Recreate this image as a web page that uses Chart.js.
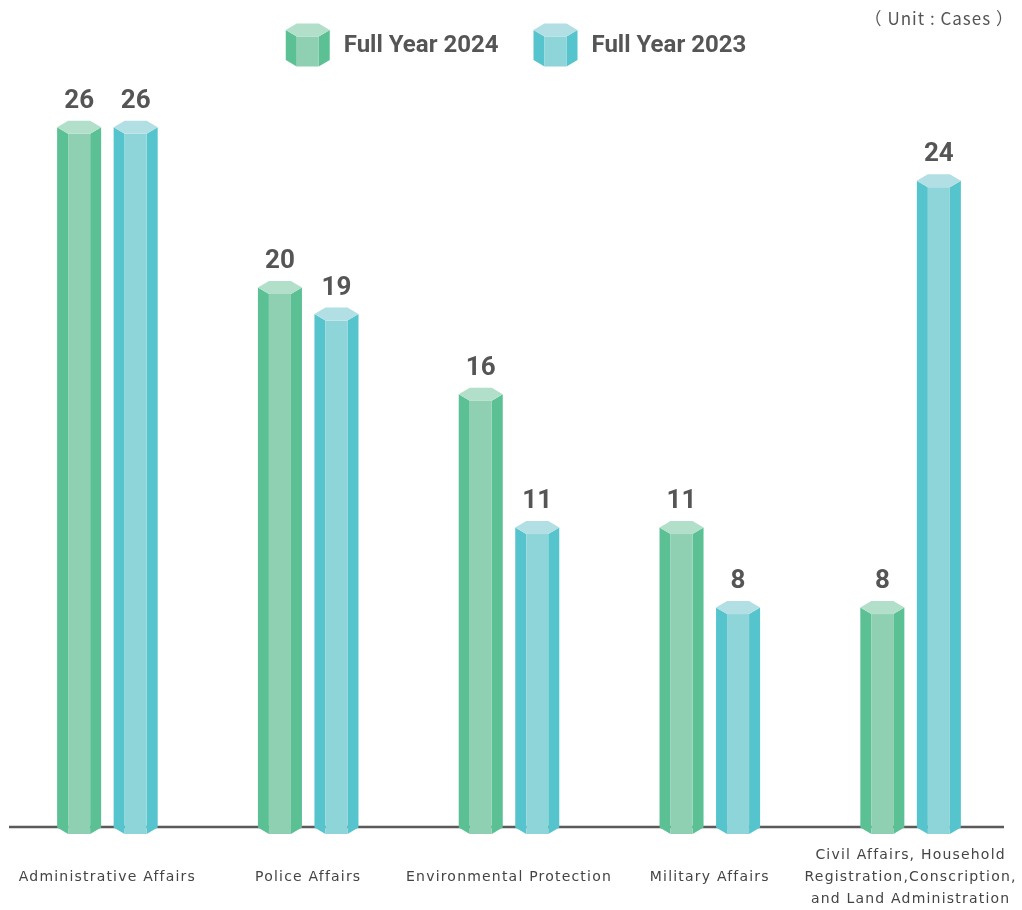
<!DOCTYPE html>
<html>
<head>
<meta charset="utf-8">
<script src="https://cdn.jsdelivr.net/npm/chart.js@4.4.1/dist/chart.umd.min.js"></script>
<style>
  html, body { margin: 0; padding: 0; background: #fff; }
  #wrap { width: 1022px; height: 910px; position: relative; }
</style>
</head>
<body>
<div id="wrap"><canvas id="bar_chart"></canvas></div>
<script>
const ctx = document.querySelector('#bar_chart')

const categories = [
    'Administrative Affairs',
    'Police Affairs',
    'Environmental Protection',
    'Military Affairs',
    ['Civil Affairs, Household', 'Registration,Conscription,', 'and Land Administration']
];
const seriesNames = ['Full Year 2024', 'Full Year 2023'];
const values2024 = [26, 20, 16, 11, 8];
const values2023 = [26, 19, 11, 8, 24];
const unitLabel = '（ Unit : Cases ）';

// side / front / top colours of each prism
const greenFaces = { side: '#5bc195', front: '#8fd0b3', top: '#b1dfc9' };
const cyanFaces = { side: '#56c4cc', front: '#8ed5d9', top: '#b1dfe4' };

const SIDE = 11;   // width of each slanted side face
const DEPTH = 6.5; // half height of the hexagon cap

function drawPrism(c, x0, x1, yTop, yBottom, faces) {
    const s = SIDE, d = DEPTH;
    c.fillStyle = faces.side;
    c.beginPath();
    c.moveTo(x0, yTop);
    c.lineTo(x0 + s, yTop + d);
    c.lineTo(x0 + s, yBottom + d);
    c.lineTo(x0, yBottom);
    c.closePath();
    c.fill();
    c.beginPath();
    c.moveTo(x1, yTop);
    c.lineTo(x1 - s, yTop + d);
    c.lineTo(x1 - s, yBottom + d);
    c.lineTo(x1, yBottom);
    c.closePath();
    c.fill();
    c.fillStyle = faces.front;
    c.fillRect(x0 + s, yTop + d, (x1 - x0) - 2 * s, yBottom - yTop);
    c.fillStyle = faces.top;
    c.beginPath();
    c.moveTo(x0 + s, yTop - d);
    c.lineTo(x1 - s, yTop - d);
    c.lineTo(x1, yTop);
    c.lineTo(x1 - s, yTop + d);
    c.lineTo(x0 + s, yTop + d);
    c.lineTo(x0, yTop);
    c.closePath();
    c.fill();
}

const prismBars = {
    id: 'prismBars',
    beforeDraw(chart) {
        // spaced-out category labels (scales draw before datasets)
        chart.ctx.letterSpacing = '1.2px';
    },
    beforeDatasetsDraw(chart) {
        const c = chart.ctx;
        c.letterSpacing = '0px';
        const base = chart.scales.y.getPixelForValue(0) + 6;
        c.save();
        c.strokeStyle = '#5a5a5a';
        c.lineWidth = 2.5;
        c.beginPath();
        c.moveTo(9, base);
        c.lineTo(1004, base);
        c.stroke();
        c.restore();
    },
    afterDatasetsDraw(chart) {
        const c = chart.ctx;
        c.save();
        chart.data.datasets.forEach((ds, di) => {
            const meta = chart.getDatasetMeta(di);
            meta.data.forEach((bar, i) => {
                const x0 = bar.x - bar.width / 2;
                const x1 = bar.x + bar.width / 2;
                drawPrism(c, x0, x1, bar.y, bar.base + 6.5, ds.faces);
                c.fillStyle = '#555555';
                c.font = 'bold 26px Roboto';
                c.textAlign = 'center';
                c.textBaseline = 'alphabetic';
                c.fillText(ds.data[i], bar.x, bar.y - 19.5);
            });
        });
        c.restore();
    },
    afterDraw(chart) {
        const c = chart.ctx;
        c.save();
        // legend
        c.font = 'bold 24px Roboto';
        const iconW = 44, gapText = 14, gapItem = 35;
        const widths = chart.data.datasets.map(ds => c.measureText(ds.label).width);
        const total = widths.reduce((a, w) => a + iconW + gapText + w, 0) + gapItem;
        let x = 516 - total / 2;
        chart.data.datasets.forEach((ds, di) => {
            drawPrism(c, x, x + iconW, 30, 60, ds.faces);
            c.fillStyle = '#555555';
            c.textAlign = 'left';
            c.textBaseline = 'middle';
            c.fillText(ds.label, x + iconW + gapText, 46);
            x += iconW + gapText + widths[di] + gapItem;
        });
        // unit
        c.letterSpacing = '1px';
        c.font = '17px "Noto Sans CJK JP"';
        c.fillStyle = '#555555';
        c.textAlign = 'right';
        c.textBaseline = 'middle';
        c.fillText(unitLabel, 1014, 19);
        c.restore();
        c.letterSpacing = '0px';
    }
};

const data = {
    labels: categories,
    datasets: [
        {
            label: seriesNames[0],
            data: values2024,
            backgroundColor: 'transparent',
            faces: greenFaces
        },
        {
            label: seriesNames[1],
            data: values2023,
            backgroundColor: 'transparent',
            faces: cyanFaces
        }
    ]
};

const options = {
    responsive: true,
    maintainAspectRatio: false,
    animation: false,
    categoryPercentage: 0.563,
    barPercentage: 0.779,
    layout: {
        padding: { left: 7, right: 11, top: 74, bottom: 0 }
    },
    plugins: {
        legend: false,
        tooltip: { enabled: false }
    },
    scales: {
        x: {
            grid: { display: false, drawTicks: false },
            border: { display: false },
            afterFit: scale => {
                scale.height = 89;
                scale.paddingLeft = 0;
                scale.paddingRight = 0;
            },
            ticks: {
                padding: 34,
                color: '#444444',
                crossAlign: 'center',
                maxRotation: 0,
                autoSkip: false,
                font: { family: 'DejaVu Sans', size: 14, lineHeight: 1.6 }
            }
        },
        y: {
            display: false,
            min: 0,
            max: 28
        }
    }
}

new Chart(ctx, {
    type: 'bar',
    data: data,
    options: options,
    plugins: [prismBars]
})
</script>
</body>
</html>
